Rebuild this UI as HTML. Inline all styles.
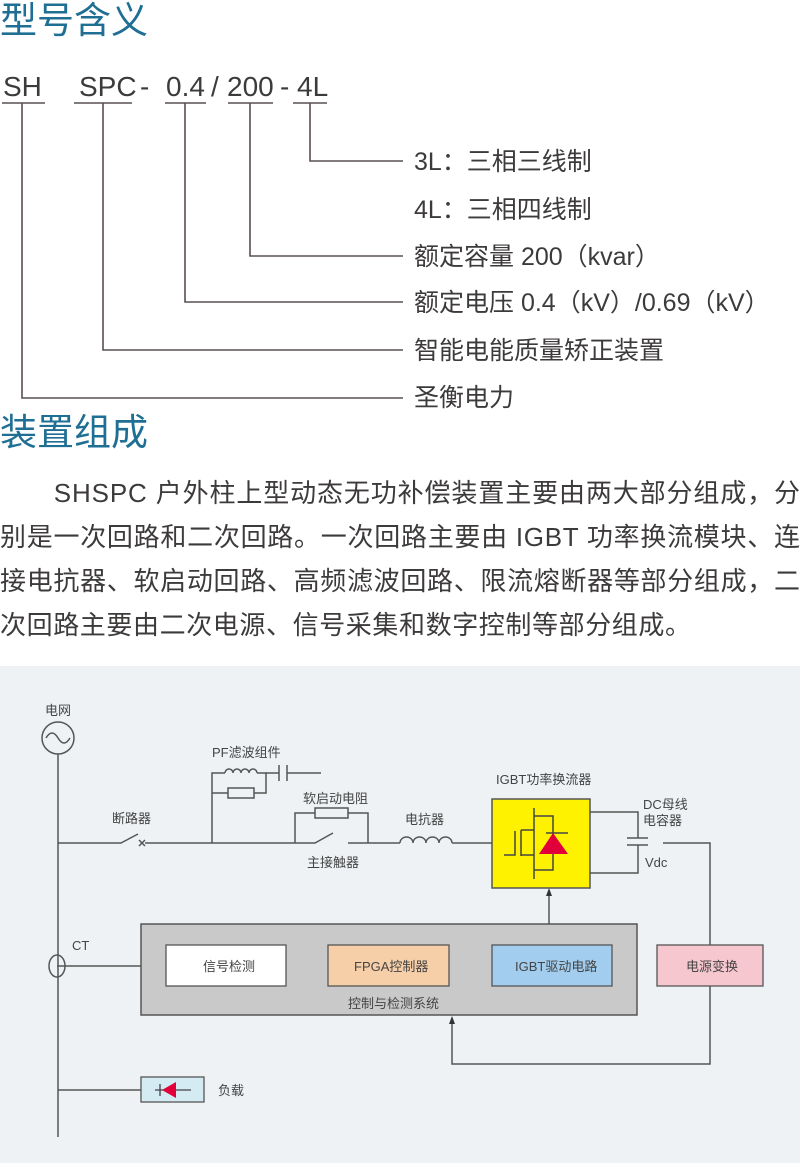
<!DOCTYPE html>
<html><head><meta charset="utf-8"><style>
html,body{margin:0;padding:0;background:#fff;}
svg{display:block}
text{font-family:"Liberation Sans","Noto Sans CJK SC",sans-serif;}
</style></head><body>
<svg width="800" height="1163" viewBox="0 0 800 1163" xmlns="http://www.w3.org/2000/svg">
<g fill="#1f6e93" font-size="37">
<text x="0" y="33">型号含义</text>
<text x="0" y="445">装置组成</text>
</g>
<g fill="#3d3a3a" font-size="28">
<text x="3" y="96">SH</text>
<text x="79" y="96">SPC</text>
<text x="140" y="96">-</text>
<text x="166" y="96">0.4</text>
<text x="211" y="96">/</text>
<text x="227" y="96">200</text>
<text x="280" y="96">-</text>
<text x="297" y="96">4L</text>
</g>
<g stroke="#5a5050" stroke-width="1.6" fill="none">
<path d="M2 103H45M74 103H132M165 103H206M228 103H273M293 103H327"/>
<path d="M22 103V398H403M103 103V350H403M185 103V302H403M250 103V256H403M310 103V161H403"/>
</g>
<g fill="#3d3a3a" font-size="25">
<text x="414" y="170">3L：三相三线制</text>
<text x="414" y="218">4L：三相四线制</text>
<text x="414" y="265">额定容量 200（kvar）</text>
<text x="414" y="311">额定电压 0.4（kV）/0.69（kV）</text>
<text x="414" y="359">智能电能质量矫正装置</text>
<text x="414" y="406">圣衡电力</text>
</g>
<g fill="#3d3a3a" font-size="26">
<text x="0" y="502" textLength="800" lengthAdjust="spacing">　　SHSPC 户外柱上型动态无功补偿装置主要由两大部分组成，分</text>
<text x="0" y="546" textLength="800" lengthAdjust="spacing">别是一次回路和二次回路。一次回路主要由 IGBT 功率换流模块、连</text>
<text x="0" y="590" textLength="800" lengthAdjust="spacing">接电抗器、软启动回路、高频滤波回路、限流熔断器等部分组成，二</text>
<text x="0" y="634" letter-spacing="0.6">次回路主要由二次电源、信号采集和数字控制等部分组成。</text>
</g>
<rect x="0" y="666" width="800" height="497" fill="#eef2f5"/>
<g stroke="#555" stroke-width="1.5" fill="none">
<circle cx="58" cy="738" r="16"/>
<path d="M46 738q6-10 12 0t12 0"/>
<path d="M58 754V1137"/>
<path d="M58 843H121L138 834"/>
<path d="M139 840l6 6M145 840l-6 6"/>
<path d="M145 843H315L333 833"/>
<path d="M348 843H400"/>
<path d="M212 843V773H225M257 773H266V793H254M228 793H212"/>
<rect x="228" y="788" width="26" height="10"/>
<path d="M225 773a4 4 0 0 1 8 0a4 4 0 0 1 8 0a4 4 0 0 1 8 0a4 4 0 0 1 8 0"/>
<path d="M266 773H279M279 765V781M287 765V781M287 773H321"/>
<path d="M295 843V813H315M348 813H368V843"/>
<rect x="315" y="808" width="33" height="10"/>
<path d="M400 843a6.5 6 0 0 1 13 0a6.5 6 0 0 1 13 0a6.5 6 0 0 1 13 0a6.5 6 0 0 1 13 0"/>
<path d="M452 843H492"/>
<path d="M590 812H638V838M627 838H648M627 845H648M638 845V873H590"/>
<path d="M663 843H710V945"/>
<path d="M549 945V895"/>
<path d="M710 986V1064H452V1024"/>
<ellipse cx="57" cy="966" rx="8" ry="11"/>
<path d="M57 966H158"/>
<path d="M58 1090H141"/>
<path d="M286 966H328M449 966H492"/>
</g>
<g fill="#333">
<path d="M549 888l-3 8h6z"/>
<path d="M452 1016l-3 8h6z"/>
<path d="M166 966l-9-4v8z"/>
</g>
<rect x="492" y="799" width="98" height="89" fill="#fff200" stroke="#555" stroke-width="1.5"/>
<g stroke="#444" stroke-width="1.5" fill="none">
<path d="M504 855H515V831M521 830V856M521 830H534M534 808V879M521 855H534M534 816H553V870H534M546 833H568"/>
</g>
<path d="M539 854H568L553 833z" fill="#e2003a"/>
<rect x="141" y="924" width="496" height="91" fill="#c9c9c9" stroke="#555" stroke-width="1.5"/>
<rect x="166" y="945" width="120" height="41" fill="#fff" stroke="#555" stroke-width="1.3"/>
<rect x="328" y="945" width="121" height="41" fill="#f6cfa8" stroke="#555" stroke-width="1.3"/>
<rect x="492" y="945" width="120" height="41" fill="#a2cdee" stroke="#555" stroke-width="1.3"/>
<rect x="657" y="945" width="106" height="41" fill="#f7c7d0" stroke="#555" stroke-width="1.3"/>
<rect x="141" y="1077" width="63" height="25" fill="#d4ebf4" stroke="#555" stroke-width="1.3"/>
<path d="M155 1090H191M160 1084V1096" stroke="#444" stroke-width="1.3"/>
<path d="M162 1090L176 1082V1098z" fill="#e2003a"/>
<g fill="#444" font-size="13">
<text x="45" y="715">电网</text>
<text x="212" y="757">PF滤波组件</text>
<text x="303" y="803">软启动电阻</text>
<text x="112" y="823">断路器</text>
<text x="307" y="867">主接触器</text>
<text x="405" y="824">电抗器</text>
<text x="496" y="784">IGBT功率换流器</text>
<text x="643" y="809">DC母线</text>
<text x="643" y="825">电容器</text>
<text x="645" y="867">Vdc</text>
<text x="72" y="950">CT</text>
<text x="203" y="971">信号检测</text>
<text x="354" y="971">FPGA控制器</text>
<text x="515" y="971">IGBT驱动电路</text>
<text x="686" y="971">电源变换</text>
<text x="348" y="1008">控制与检测系统</text>
<text x="218" y="1095">负载</text>
</g>
</svg>
</body></html>
